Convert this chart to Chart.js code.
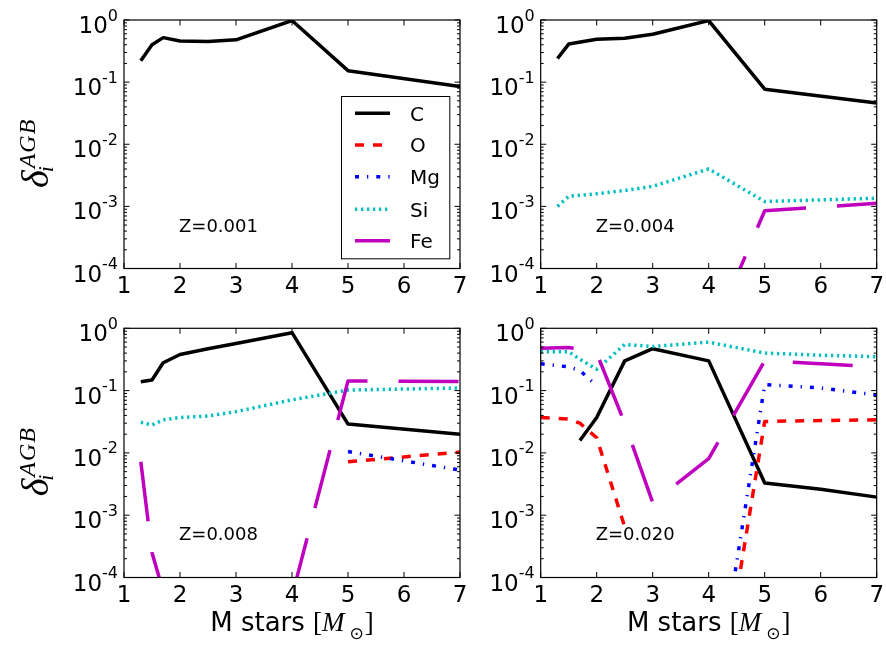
<!DOCTYPE html>
<html>
<head>
<meta charset="utf-8">
<script src="https://cdn.jsdelivr.net/npm/chart.js@4.4.0/dist/chart.umd.min.js"></script>
<style>
  body { margin: 0; background: #fff; }
  #wrap { position: relative; width: 886px; height: 646px; background: #fff; }
  canvas { position: absolute; left: 0; top: 0; }
</style>
</head>
<body>
<div id="wrap">
  <canvas id="p1" width="886" height="646"></canvas>
  <canvas id="p2" width="886" height="646"></canvas>
  <canvas id="p3" width="886" height="646"></canvas>
  <canvas id="p4" width="886" height="646"></canvas>
</div>
<script>
// stellar masses [M_sun] and delta_i^AGB per metallicity (null = no value)
let mass_001 = [1.3, 1.5, 1.7, 2.0, 2.5, 3.0, 4.0, 5.0, 7.0];
let c_001 = [0.22, 0.40, 0.52, 0.46, 0.45, 0.48, 0.98, 0.153, 0.085];

let mass_004 = [1.3, 1.5, 2.0, 2.5, 3.0, 4.0, 5.0, 7.0];
let c_004 = [0.24, 0.41, 0.49, 0.51, 0.59, 0.98, 0.077, 0.046];
let si_004 = [1.0e-3, 1.45e-3, 1.6e-3, 1.8e-3, 2.1e-3, 4.0e-3, 1.2e-3, 1.35e-3];
let fe_004 = [null, null, null, null, null, 6.6e-6, 8.5e-4, 1.12e-3];

let mass_008 = [1.3, 1.5, 1.7, 2.0, 2.5, 3.0, 4.0, 5.0, 7.0];
let c_008 = [0.139, 0.148, 0.28, 0.38, 0.47, 0.57, 0.85, 0.029, 0.020];
let o_008 = [null, null, null, null, null, null, null, 7.2e-3, 1.03e-2];
let mg_008 = [null, null, null, null, null, null, null, 1.05e-2, 5.3e-3];
let si_008 = [0.031, 0.028, 0.034, 0.037, 0.039, 0.046, 0.071, 0.102, 0.110];
let fe_008 = [7.2e-3, 2.5e-4, 6e-5, null, null, null, 5e-5, 0.143, 0.14];

let mass_020 = [1.0, 1.5, 1.7, 2.0, 2.5, 3.0, 4.0, 5.0, 6.0, 7.0];
let c_020 = [null, null, 0.0158, 0.037, 0.30, 0.47, 0.30, 3.3e-3, 2.6e-3, 1.95e-3];
let o_020 = [0.037, 0.035, 0.030, 0.0175, 6.5e-4, null, 1e-7, 0.032, 0.033, 0.034];
let mg_020 = [0.27, 0.24, 0.21, 0.119, null, null, 2.5e-7, 0.125, 0.11, 0.085];
let si_020 = [0.42, 0.42, 0.32, 0.22, 0.55, 0.51, 0.60, 0.40, 0.37, 0.35];
let fe_020 = [0.48, 0.49, 0.46, 0.40, 0.030, 1.6e-3, 8.1e-3, 0.30, 0.27, 0.24];

let x_ticks = [1, 2, 3, 4, 5, 6, 7];
let y_exps = [0, -1, -2, -3, -4];
let species = ["C", "O", "Mg", "Si", "Fe"];

// line styles (matplotlib k-, r--, b-., c:, m long dash)
let colors = ["#000000", "#ff0000", "#0000ff", "#00bfbf", "#bf00bf"];
let dashes = [[], [9, 9], [4, 8, 1.3, 8], [2.3, 3.7], [60, 31]];

let panels = [
  { id: "p1", box: [124, 20, 460, 268.5], z: "Z=0.001", mass: mass_001,
    series: [c_001, [], [], [], []], feOffset: 0, ylabel: true, xlabel: false, legend: true },
  { id: "p2", box: [540.7, 20, 876.7, 268.5], z: "Z=0.004", mass: mass_004,
    series: [c_004, [], [], si_004, fe_004], feOffset: 58, ylabel: false, xlabel: false, legend: false },
  { id: "p3", box: [124, 328.3, 460, 577.5], z: "Z=0.008", mass: mass_008,
    series: [c_008, o_008, mg_008, si_008, fe_008], feOffset: 0, ylabel: true, xlabel: true, legend: false },
  { id: "p4", box: [540.7, 328.3, 876.7, 577.5], z: "Z=0.020", mass: mass_020,
    series: [c_020, o_020, mg_020, si_020, fe_020], feOffset: 27, ylabel: false, xlabel: true, legend: false },
];

function drawYLabel(ctx, x0, y0) {
  ctx.save();
  ctx.translate(x0, y0);
  ctx.rotate(-Math.PI / 2);
  ctx.fillStyle = "#000";
  ctx.textAlign = "left";
  ctx.textBaseline = "alphabetic";
  ctx.font = "italic 38px 'Liberation Serif'";
  ctx.fillText("δ", 0, 0);
  let w = ctx.measureText("δ").width;
  ctx.font = "italic 22px 'Liberation Serif'";
  ctx.fillText("i", w - 2, 5);
  ctx.font = "italic 24px 'Liberation Serif'";
  let x = w + 2;
  for (let ch of "AGB") {
    ctx.fillText(ch, x, -13);
    x += ctx.measureText(ch).width + 1;
  }
  ctx.restore();
}

function drawXLabel(ctx, cx, base) {
  let parts = [
    { t: "M stars ", f: "26px 'DejaVu Sans'", dy: 0, pre: 0 },
    { t: "[", f: "27px 'Liberation Serif'", dy: 0, pre: 0 },
    { t: "M", f: "italic 27px 'Liberation Serif'", dy: 0, pre: 0 },
    { t: "\u2299", f: "17px 'DejaVu Sans'", dy: 8, pre: 5 },
    { t: "]", f: "27px 'Liberation Serif'", dy: 0, pre: 1 },
  ];
  let total = 0;
  for (let p of parts) {
    ctx.font = p.f;
    p.w = ctx.measureText(p.t).width;
    total += p.pre + p.w;
  }
  let x = cx - total / 2;
  ctx.textAlign = "left";
  ctx.textBaseline = "alphabetic";
  for (let p of parts) {
    ctx.font = p.f;
    x += p.pre;
    ctx.fillText(p.t, x, base + p.dy);
    x += p.w;
  }
}

function drawLegend(ctx, chart) {
  let bx = 341, by = 96, bw = 108.3, bh = 162.3;
  ctx.fillStyle = "#fff";
  ctx.fillRect(bx, by, bw, bh);
  ctx.strokeStyle = "#000";
  ctx.lineWidth = 1;
  ctx.strokeRect(bx + 0.5, by + 0.5, bw, bh);
  let rows = [113.3, 145, 176.7, 209.3, 240.7];
  chart.data.datasets.forEach((ds, i) => {
    let y = rows[i];
    ctx.save();
    ctx.strokeStyle = ds.borderColor;
    ctx.lineWidth = ds.borderWidth;
    ctx.setLineDash(ds.borderDash);
    ctx.lineCap = "butt";
    ctx.beginPath();
    ctx.moveTo(355, y);
    ctx.lineTo(390, y);
    ctx.stroke();
    ctx.restore();
    ctx.fillStyle = "#000";
    ctx.font = "20px 'DejaVu Sans'";
    ctx.textAlign = "left";
    ctx.textBaseline = "alphabetic";
    ctx.fillText(species[i], 410, y + 7.3);
  });
}

let mplAxes = {
  id: "mplAxes",
  afterDraw(chart) {
    let p = panels.find(q => q.id == chart.canvas.id);
    let ctx = chart.ctx;
    let a = chart.chartArea;
    let xs = chart.scales.x;
    let ys = chart.scales.y;
    ctx.save();

    // inward ticks on all four sides
    ctx.strokeStyle = "#000";
    ctx.lineWidth = 1;
    ctx.beginPath();
    for (let v of x_ticks) {
      let px = xs.getPixelForValue(v);
      ctx.moveTo(px, a.bottom);
      ctx.lineTo(px, a.bottom - 5.5);
      ctx.moveTo(px, a.top);
      ctx.lineTo(px, a.top + 5.5);
    }
    for (let e of y_exps) {
      let py = ys.getPixelForValue(Math.pow(10, e));
      ctx.moveTo(a.left, py);
      ctx.lineTo(a.left + 5.5, py);
      ctx.moveTo(a.right, py);
      ctx.lineTo(a.right - 5.5, py);
      if (e < 0) {
        for (let m = 2; m < 10; m++) {
          let pm = ys.getPixelForValue(m * Math.pow(10, e));
          ctx.moveTo(a.left, pm);
          ctx.lineTo(a.left + 3, pm);
          ctx.moveTo(a.right, pm);
          ctx.lineTo(a.right - 3, pm);
        }
      }
    }
    ctx.stroke();

    // frame
    ctx.lineWidth = 1.2;
    ctx.strokeRect(a.left, a.top, a.right - a.left, a.bottom - a.top);

    // tick labels
    ctx.fillStyle = "#000";
    ctx.textBaseline = "alphabetic";
    ctx.font = "23px 'DejaVu Sans'";
    ctx.textAlign = "center";
    for (let v of x_ticks) {
      ctx.fillText(String(v), xs.getPixelForValue(v), a.bottom + 24.5);
    }
    let right = a.left - 6;
    for (let e of y_exps) {
      let py = ys.getPixelForValue(Math.pow(10, e));
      let sup = e == 0 ? "0" : "-" + (-e);
      ctx.font = "16px 'DejaVu Sans'";
      let ws = ctx.measureText(sup).width;
      ctx.textAlign = "left";
      ctx.fillText(sup, right - ws, py + 0.5);
      ctx.font = "23px 'DejaVu Sans'";
      ctx.textAlign = "right";
      ctx.fillText("10", right - ws, py + 13);
    }

    // metallicity note
    ctx.font = "18px 'DejaVu Sans'";
    ctx.textAlign = "left";
    ctx.fillText(p.z, a.left + 55, a.top + 211.7);

    if (p.ylabel) drawYLabel(ctx, 48, a.top + 168);
    if (p.xlabel) drawXLabel(ctx, (a.left + a.right) / 2, a.bottom + 53.5);
    if (p.legend) drawLegend(ctx, chart);
    ctx.restore();
  },
};

function makeDatasets(p) {
  return species.map((name, i) => {
    let ys = p.series[i];
    let pts = [];
    for (let k = 0; k < ys.length; k++) {
      pts.push({ x: p.mass[k], y: ys[k] });
    }
    return {
      label: name,
      data: pts,
      borderColor: colors[i],
      backgroundColor: colors[i],
      borderWidth: 3.5,
      borderDash: dashes[i],
      borderDashOffset: i == 4 ? p.feOffset : 0,
      borderJoinStyle: "round",
      borderCapStyle: "butt",
      fill: false,
      tension: 0,
      pointRadius: 0,
      spanGaps: false,
      clip: 0,
      order: 4 - i,
    };
  });
}

for (let p of panels) {
  let b = p.box;
  new Chart(document.getElementById(p.id), {
    type: "line",
    data: { datasets: makeDatasets(p) },
    options: {
      responsive: false,
      animation: false,
      events: [],
      layout: { padding: { left: b[0], top: b[1], right: 886 - b[2], bottom: 646 - b[3] } },
      scales: {
        x: { type: "linear", min: 1, max: 7, display: false },
        y: { type: "logarithmic", min: 1e-4, max: 1, display: false },
      },
      plugins: { legend: { display: false }, tooltip: { enabled: false } },
    },
    plugins: [mplAxes],
  });
}
</script>
</body>
</html>
